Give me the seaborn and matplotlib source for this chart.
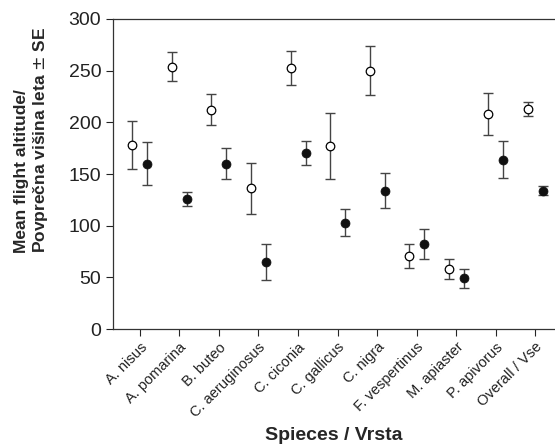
import matplotlib
matplotlib.use("Agg")
import matplotlib.pyplot as plt
import seaborn as sns
import numpy as np
import pandas as pd

sns.set_style("ticks")
plt.rcParams['font.family'] = ['Liberation Sans', 'DejaVu Sans']

species = ["A. nisus", "A. pomarina", "B. buteo", "C. aeruginosus", "C. ciconia",
           "C. gallicus", "C. nigra", "F. vespertinus", "M. apiaster", "P. apivorus",
           "Overall / Vse"]
# open circles
mean_open = [178, 254, 212, 136, 253, 177, 250, 71, 58, 208, 213]
se_open = [23, 14, 15, 24.5, 16.5, 32, 23.5, 11.5, 9.5, 20, 6.6]
# filled circles
mean_filled = [160, 126, 160, 65, 170, 103, 134, 82, 49, 164, 134]
se_filled = [20.5, 7, 15, 17.5, 11.5, 13, 16.5, 14.5, 9.5, 17.5, 4.7]

idx = np.arange(len(species))
df_open = pd.DataFrame({"x": idx - 0.19, "y": mean_open, "se": se_open})
df_filled = pd.DataFrame({"x": idx + 0.19, "y": mean_filled, "se": se_filled})

fig = plt.figure(figsize=(5.55, 4.46), dpi=100)
ax = fig.add_axes([0.2036, 0.2623, 0.7964, 0.6951])

for d in (df_open, df_filled):
    ax.errorbar(d["x"], d["y"], yerr=d["se"], fmt="none", ecolor="#444444",
                elinewidth=1.0, capsize=3.5, capthick=1.0, zorder=2)

sns.scatterplot(data=df_open, x="x", y="y", ax=ax, marker="o", s=38,
                facecolor="white", edgecolor="black", linewidth=0.9, zorder=3)
sns.scatterplot(data=df_filled, x="x", y="y", ax=ax, marker="o", s=42,
                color="#111111", edgecolor="#111111", linewidth=0.5, zorder=3)

ax.set_xlim(-0.68, 10.5)
ax.set_ylim(0, 300)
ax.set_yticks(range(0, 301, 50))
ax.set_xticks(idx)
ax.set_xticklabels(species, rotation=45, ha="right", rotation_mode="anchor",
                   fontsize=10.5, color="#222222")
ax.tick_params(axis="y", labelsize=14, colors="#222222", length=5, width=0.8)
ax.tick_params(axis="x", length=5, width=0.8, pad=3)

for s in ("left", "top", "bottom"):
    ax.spines[s].set_linewidth(0.9)
    ax.spines[s].set_color("#333333")
ax.spines["right"].set_visible(False)

ax.set_xlabel("Spieces / Vrsta", fontsize=14, fontweight="bold")
ax.xaxis.set_label_coords(0.5, -0.315)
ax.set_ylabel("Mean flight altitude/\nPovprečna višina leta $\\pm$ SE",
              fontsize=12.5, fontweight="bold", multialignment="left",
              linespacing=1.15)
ax.yaxis.set_label_coords(-0.142, 0.61)

fig.savefig("out.png", dpi=100)
